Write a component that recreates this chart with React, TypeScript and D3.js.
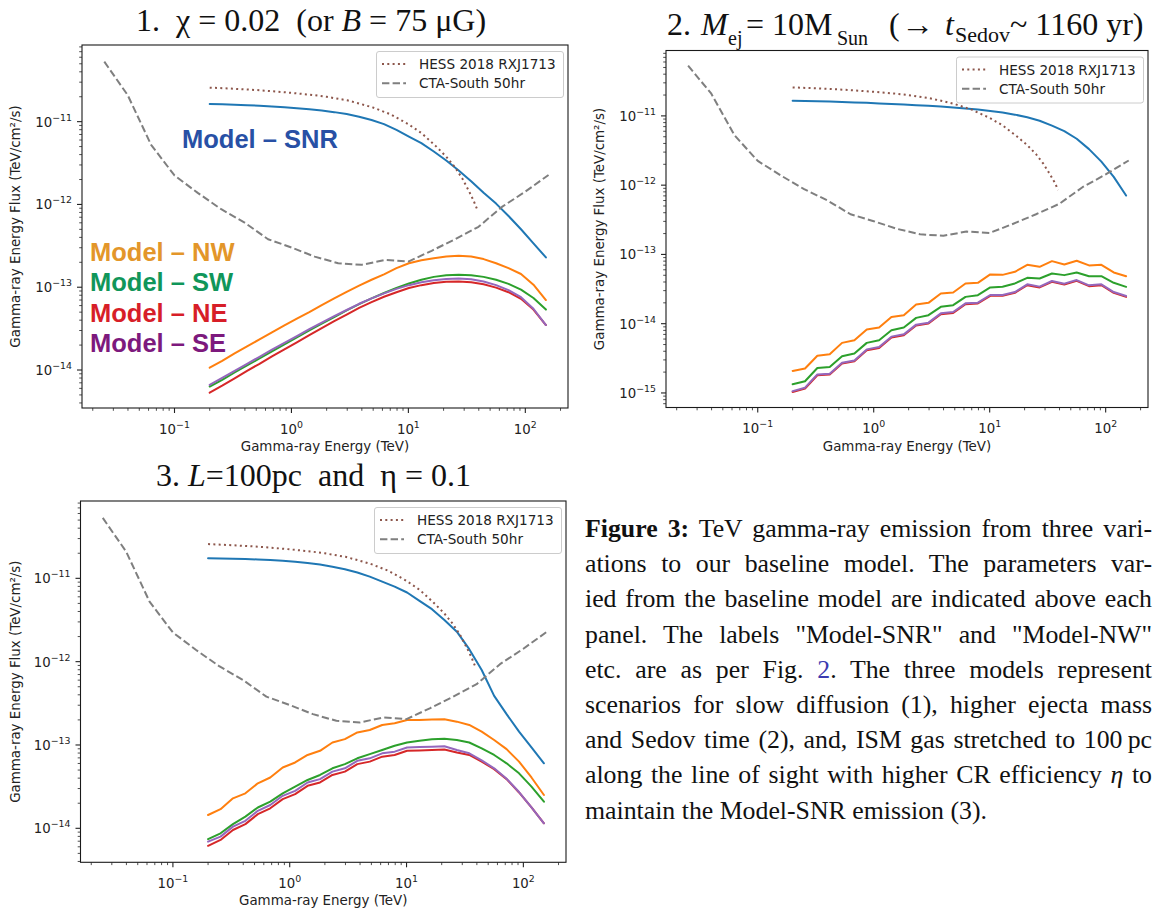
import React, { useLayoutEffect, useRef } from 'react';
import * as d3 from 'd3';

// ---------- DATA (energies in TeV, fluxes as log10 of TeV/cm^2/s) ----------
const E_MODEL = [0.2, 0.2557, 0.3266, 0.4173, 0.5332, 0.6814, 0.8708, 1.1127, 1.4217, 1.8167, 2.3213, 2.9662, 3.7903, 4.8432, 6.1886, 7.9078, 10.104, 12.912, 16.499, 21.082, 26.939, 34.422, 43.984, 56.235, 71.853, 91.833, 117.35, 150];

const E_CTA = [0.0251, 0.0398, 0.0631, 0.1, 0.158, 0.251, 0.398, 0.631, 1, 1.58, 2.51, 3.98, 6.31, 10, 15.8, 25.1, 39.8, 63.1, 100, 158];
const CTA_LOG = [-10.275, -10.68, -11.28, -11.65, -11.86, -12.058, -12.22, -12.42, -12.52, -12.63, -12.71, -12.73, -12.67, -12.69, -12.56, -12.42, -12.27, -12.03, -11.845, -11.644];

const E_HESS = [0.2, 0.3, 0.5, 0.7, 1, 1.5, 2, 3, 4, 5, 7, 10, 13, 17, 21, 25, 29, 33, 36, 39];
const HESS_LOG = [-10.589, -10.6, -10.618, -10.633, -10.652, -10.677, -10.7, -10.742, -10.79, -10.83, -10.91, -11.03, -11.14, -11.29, -11.42, -11.55, -11.69, -11.84, -11.95, -12.07];

// Panel 1
const P1_SNR = [-10.786, -10.79, -10.795, -10.801, -10.808, -10.816, -10.826, -10.838, -10.851, -10.866, -10.885, -10.908, -10.94, -10.98, -11.03, -11.1, -11.18, -11.26, -11.36, -11.47, -11.59, -11.72, -11.86, -11.99, -12.14, -12.3, -12.47, -12.64];
const P1_NW = [-13.972, -13.89, -13.8, -13.715, -13.63, -13.545, -13.46, -13.38, -13.3, -13.215, -13.135, -13.055, -12.98, -12.91, -12.845, -12.77, -12.71, -12.675, -12.65, -12.63, -12.62, -12.63, -12.66, -12.71, -12.77, -12.84, -12.97, -13.155];
const P1_SW = [-14.2, -14.12, -14.03, -13.945, -13.86, -13.775, -13.69, -13.605, -13.52, -13.44, -13.36, -13.28, -13.205, -13.135, -13.07, -13.01, -12.955, -12.91, -12.875, -12.855, -12.85, -12.855, -12.875, -12.91, -12.96, -13.03, -13.13, -13.27];
const P1_NE = [-14.274, -14.19, -14.1, -14.01, -13.925, -13.835, -13.75, -13.665, -13.58, -13.495, -13.41, -13.33, -13.25, -13.18, -13.115, -13.06, -13.01, -12.975, -12.95, -12.935, -12.93, -12.94, -12.965, -13.005, -13.06, -13.14, -13.27, -13.457];
const P1_SE = [-14.18, -14.095, -14.01, -13.925, -13.84, -13.755, -13.672, -13.59, -13.507, -13.428, -13.35, -13.275, -13.2, -13.135, -13.075, -13.02, -12.975, -12.94, -12.915, -12.9, -12.895, -12.905, -12.93, -12.975, -13.035, -13.12, -13.26, -13.457];

// Panel 2
const P2_SNR = [-10.783, -10.786, -10.79, -10.794, -10.799, -10.805, -10.812, -10.82, -10.828, -10.836, -10.845, -10.855, -10.866, -10.878, -10.892, -10.908, -10.928, -10.952, -10.982, -11.02, -11.07, -11.14, -11.22, -11.33, -11.48, -11.66, -11.88, -12.15];
const P2_NW = [-14.682, -14.647, -14.462, -14.441, -14.277, -14.238, -14.084, -14.055, -13.902, -13.877, -13.723, -13.699, -13.564, -13.549, -13.419, -13.41, -13.289, -13.295, -13.251, -13.15, -13.179, -13.097, -13.145, -13.092, -13.159, -13.15, -13.26, -13.314];
const P2_SW = [-14.874, -14.831, -14.639, -14.624, -14.47, -14.431, -14.277, -14.238, -14.094, -14.055, -13.916, -13.877, -13.757, -13.733, -13.613, -13.588, -13.477, -13.468, -13.419, -13.338, -13.347, -13.275, -13.299, -13.26, -13.314, -13.314, -13.41, -13.468];
const P2_NE = [-14.986, -14.936, -14.744, -14.734, -14.575, -14.542, -14.383, -14.35, -14.199, -14.166, -14.026, -13.997, -13.863, -13.844, -13.718, -13.708, -13.598, -13.598, -13.555, -13.444, -13.477, -13.396, -13.434, -13.382, -13.458, -13.444, -13.555, -13.613];
const P2_SE = [-14.974, -14.924, -14.732, -14.722, -14.563, -14.53, -14.371, -14.338, -14.187, -14.154, -14.014, -13.985, -13.851, -13.832, -13.706, -13.696, -13.586, -13.586, -13.543, -13.432, -13.465, -13.384, -13.422, -13.37, -13.446, -13.432, -13.543, -13.601];

// Panel 3
const P3_SNR = [-10.76, -10.762, -10.765, -10.769, -10.774, -10.78, -10.79, -10.8, -10.815, -10.835, -10.86, -10.89, -10.93, -10.98, -11.04, -11.1, -11.17, -11.27, -11.37, -11.5, -11.64, -11.85, -12.1, -12.41, -12.63, -12.84, -13.03, -13.22];
const P3_NW = [-13.84, -13.77, -13.64, -13.58, -13.46, -13.39, -13.27, -13.21, -13.12, -13.07, -12.97, -12.93, -12.85, -12.82, -12.76, -12.74, -12.7, -12.7, -12.695, -12.69, -12.72, -12.76, -12.84, -12.94, -13.05, -13.2, -13.39, -13.6];
const P3_SW = [-14.13, -14.06, -13.95, -13.86, -13.75, -13.68, -13.58, -13.5, -13.42, -13.36, -13.28, -13.23, -13.16, -13.11, -13.06, -13.01, -12.97, -12.95, -12.93, -12.925, -12.94, -12.97, -13.04, -13.12, -13.22, -13.34, -13.5, -13.68];
const P3_NE = [-14.21, -14.14, -14.02, -13.95, -13.83, -13.76, -13.65, -13.59, -13.49, -13.45, -13.36, -13.32, -13.23, -13.2, -13.14, -13.12, -13.07, -13.065, -13.06, -13.055, -13.09, -13.12, -13.2, -13.29, -13.41, -13.57, -13.75, -13.94];
const P3_SE = [-14.16, -14.1, -13.98, -13.91, -13.79, -13.72, -13.61, -13.55, -13.45, -13.41, -13.32, -13.28, -13.19, -13.16, -13.1, -13.08, -13.03, -13.025, -13.02, -13.015, -13.06, -13.1, -13.185, -13.28, -13.405, -13.565, -13.75, -13.94];

const X_TICK_EXPS = [-1, 0, 1, 2];
const LEGEND_LABELS = ['HESS 2018 RXJ1713', 'CTA-South 50hr'];
const MODEL_LABELS = ['Model – NW', 'Model – SW', 'Model – NE', 'Model – SE'];
const MODEL_LABEL_COLORS = ['#e3962a', '#10965a', '#d71e28', '#7d197d'];

const C_BLUE = '#1f77b4', C_ORANGE = '#ff7f0e', C_GREEN = '#2ca02c', C_RED = '#d62728', C_PURPLE = '#9467bd';
const C_HESS = '#8c564b', C_CTA = '#7f7f7f';

type Series = { e: number[]; v: number[]; color: string; dash?: string };
type PanelCfg = {
  left: number; right: number; top: number; bottom: number;
  xLog: [number, number]; yLog: [number, number];
  yExps: number[]; series: Series[]; yLabelX: number;
};

function mk(snr: number[], nw: number[], sw: number[], ne: number[], se: number[]): Series[] {
  return [
    { e: E_MODEL, v: snr, color: C_BLUE },
    { e: E_MODEL, v: nw, color: C_ORANGE },
    { e: E_MODEL, v: sw, color: C_GREEN },
    { e: E_MODEL, v: ne, color: C_RED },
    { e: E_MODEL, v: se, color: C_PURPLE },
    { e: E_HESS, v: HESS_LOG, color: C_HESS, dash: '2 3.3' },
    { e: E_CTA, v: CTA_LOG, color: C_CTA, dash: '7.4 3.2' },
  ];
}

const PANELS: PanelCfg[] = [
  { left: 82, right: 568, top: 45, bottom: 408, xLog: [-1.791, 2.365], yLog: [-14.459, -10.074], yExps: [-11, -12, -13, -14], series: mk(P1_SNR, P1_NW, P1_SW, P1_NE, P1_SE), yLabelX: 20 },
  { left: 666, right: 1148, top: 50.5, bottom: 407.5, xLog: [-1.791, 2.365], yLog: [-15.21, -10.056], yExps: [-11, -12, -13, -14, -15], series: mk(P2_SNR, P2_NW, P2_SW, P2_NE, P2_SE), yLabelX: 604 },
  { left: 80.5, right: 566, top: 501, bottom: 862.3, xLog: [-1.791, 2.365], yLog: [-14.408, -10.072], yExps: [-11, -12, -13, -14], series: mk(P3_SNR, P3_NW, P3_SW, P3_NE, P3_SE), yLabelX: 20 },
];

function minorTicks(lo: number, hi: number): number[] {
  const out: number[] = [];
  for (let n = Math.floor(lo); n <= Math.ceil(hi); n++) {
    for (let k = 2; k <= 9; k++) {
      const v = Math.log10(k) + n;
      if (v >= lo && v <= hi) out.push(k * Math.pow(10, n));
    }
  }
  return out;
}

const supTxt = (e: number) => (e < 0 ? '\u2212' + Math.abs(e) : String(e));

function Panel({ p }: { p: PanelCfg }) {
  const x = d3.scaleLog().domain([10 ** p.xLog[0], 10 ** p.xLog[1]]).range([p.left, p.right]);
  const y = d3.scaleLog().domain([10 ** p.yLog[0], 10 ** p.yLog[1]]).range([p.bottom, p.top]);
  const line = d3.line<[number, number]>().x(d => x(d[0])).y(d => y(10 ** d[1]));
  const lx = p.right - 4.5 - 187;
  const ly = p.top + 6.5;
  const tickCol = '#222';
  return (
    <g>
      {p.series.map((s, i) => (
        <path key={i} d={line(s.e.map((e, j) => [e, s.v[j]] as [number, number])) || ''}
          fill="none" stroke={s.color} strokeWidth={2} strokeDasharray={s.dash}
          strokeLinejoin="round" strokeLinecap={s.dash ? 'butt' : 'round'} />
      ))}
      <rect x={p.left} y={p.top} width={p.right - p.left} height={p.bottom - p.top} fill="none" stroke="#1a1a1a" strokeWidth={1.1} />
      {X_TICK_EXPS.map(e => (
        <g key={'xt' + e}>
          <line x1={x(10 ** e)} x2={x(10 ** e)} y1={p.bottom} y2={p.bottom + 5} stroke={tickCol} strokeWidth={1.1} />
          <text x={x(10 ** e)} y={p.bottom + 25.5} textAnchor="middle" fontSize={13.3} fill={tickCol}>
            10<tspan dy={-6} fontSize={9.4}>{supTxt(e)}</tspan>
          </text>
        </g>
      ))}
      {minorTicks(p.xLog[0], p.xLog[1]).map((v, i) => (
        <line key={'xm' + i} x1={x(v)} x2={x(v)} y1={p.bottom} y2={p.bottom + 2.8} stroke={tickCol} strokeWidth={0.8} />
      ))}
      {p.yExps.map(e => (
        <g key={'yt' + e}>
          <line x1={p.left - 5} x2={p.left} y1={y(10 ** e)} y2={y(10 ** e)} stroke={tickCol} strokeWidth={1.1} />
          <text x={p.left - 10} y={y(10 ** e) + 5} textAnchor="end" fontSize={13.3} fill={tickCol}>
            10<tspan dy={-6} fontSize={9.4}>{supTxt(e)}</tspan>
          </text>
        </g>
      ))}
      {minorTicks(p.yLog[0], p.yLog[1]).map((v, i) => (
        <line key={'ym' + i} x1={p.left - 2.8} x2={p.left} y1={y(v)} y2={y(v)} stroke={tickCol} strokeWidth={0.8} />
      ))}
      <text x={(p.left + p.right) / 2} y={p.bottom + 43} textAnchor="middle" fontSize={13.4} fill={tickCol}>Gamma-ray Energy (TeV)</text>
      <text transform={`translate(${p.yLabelX},${(p.top + p.bottom) / 2}) rotate(-90)`} textAnchor="middle" fontSize={13.4} fill={tickCol}>
        Gamma-ray Energy Flux (TeV/cm²/s)
      </text>
      <rect x={lx} y={ly} width={187} height={46} rx={2.5} fill="#fff" fillOpacity={0.8} stroke="#cccccc" strokeWidth={1} />
      {LEGEND_LABELS.map((t, i) => {
        const cy = ly + 12.5 + i * 19.3;
        const s = p.series[5 + i];
        return (
          <g key={t}>
            <line x1={lx + 5.5} x2={lx + 29.5} y1={cy} y2={cy} stroke={s.color} strokeWidth={2} strokeDasharray={s.dash} />
            <text x={lx + 42.5} y={cy + 5} fontSize={13.6} fill="#222">{t}</text>
          </g>
        );
      })}
    </g>
  );
}

type Seg = { t: string; b?: boolean; i?: boolean; c?: string };
const CAPTION: Seg[][] = [
  [{ t: 'Figure 3:', b: true }, { t: ' TeV gamma-ray emission from three vari-' }],
  [{ t: 'ations to our baseline model. The parameters var-' }],
  [{ t: 'ied from the baseline model are indicated above each' }],
  [{ t: 'panel. The labels "Model-SNR" and "Model-NW"' }],
  [{ t: 'etc. are as per Fig. ' }, { t: '2', c: '#3b3bb0' }, { t: '. The three models represent' }],
  [{ t: 'scenarios for slow diffusion (1), higher ejecta mass' }],
  [{ t: 'and Sedov time (2), and, ISM gas stretched to 100\u2009pc' }],
  [{ t: 'along the line of sight with higher CR efficiency ' }, { t: 'η', i: true }, { t: ' to' }],
  [{ t: 'maintain the Model-SNR emission (3).' }],
];

function Caption() {
  const refs = useRef<(SVGTextElement | null)[]>([]);
  const L = 585, R = 1152;
  useLayoutEffect(() => {
    refs.current.forEach((el, i) => {
      if (!el || i === CAPTION.length - 1) return;
      el.style.wordSpacing = '0px';
      const w = el.getComputedTextLength();
      const str = CAPTION[i].map(s => s.t).join('');
      const n = (str.match(/ /g) || []).length;
      if (n > 0) el.style.wordSpacing = `${(R - L - w) / n}px`;
    });
  }, []);
  return (
    <g fontFamily="Liberation Serif" fontSize={25.8} fill="#111">
      {CAPTION.map((segs, i) => (
        <text key={i} ref={el => { refs.current[i] = el; }} x={L} y={537 + i * 35.2} style={{ whiteSpace: 'pre' }}>
          {segs.map((s, j) => (
            <tspan key={j} fontWeight={s.b ? 'bold' : undefined} fontStyle={s.i ? 'italic' : undefined} fill={s.c}>{s.t}</tspan>
          ))}
        </text>
      ))}
    </g>
  );
}

function Titles() {
  const f = 'Liberation Serif';
  return (
    <g fontFamily={f} fill="#111">
      <text x={136} y={31} fontSize={32} style={{ whiteSpace: 'pre' }}>
        {'1.  χ = 0.02  (or '}<tspan fontStyle="italic">B</tspan>{' = 75 μG)'}
      </text>
      <text x={667} y={35} fontSize={32} style={{ whiteSpace: 'pre' }}>{'2. '}</text>
      <text x={701} y={35} fontSize={32} fontStyle="italic">M</text>
      <text x={728} y={45} fontSize={20}>ej</text>
      <text x={746} y={35} fontSize={32} style={{ whiteSpace: 'pre' }}>{'= 10M'}</text>
      <text x={837} y={45} fontSize={20}>Sun</text>
      <text x={889} y={35} fontSize={32}>(</text>
      <text x={901} y={35} fontSize={32} textLength={33} lengthAdjust="spacingAndGlyphs">→</text>
      <text x={945} y={35} fontSize={32} fontStyle="italic">t</text>
      <text x={955} y={42} fontSize={22}>Sedov</text>
      <text x={1010} y={35} fontSize={32} style={{ whiteSpace: 'pre' }}>{'~ 1160 yr)'}</text>
      <text x={156} y={486} fontSize={32} style={{ whiteSpace: 'pre' }}>
        {'3. '}<tspan fontStyle="italic">L</tspan>{'=100pc  and  η = 0.1'}
      </text>
    </g>
  );
}

export default function App() {
  return (
    <svg width={1155} height={913} style={{ position: 'absolute', left: 0, top: 0, display: 'block' }} fontFamily="DejaVu Sans">
      <rect width={1155} height={913} fill="#fff" />
      {PANELS.map((p, i) => <Panel key={i} p={p} />)}
      <g fontFamily="Liberation Sans" fontWeight="bold" fontSize={25.5}>
        <text x={182} y={148} fill="#2850a5">Model – SNR</text>
        {MODEL_LABELS.map((t, i) => (
          <text key={t} x={90} y={260.7 + i * 30.5} fill={MODEL_LABEL_COLORS[i]}>{t}</text>
        ))}
      </g>
      <Titles />
      <Caption />
    </svg>
  );
}
